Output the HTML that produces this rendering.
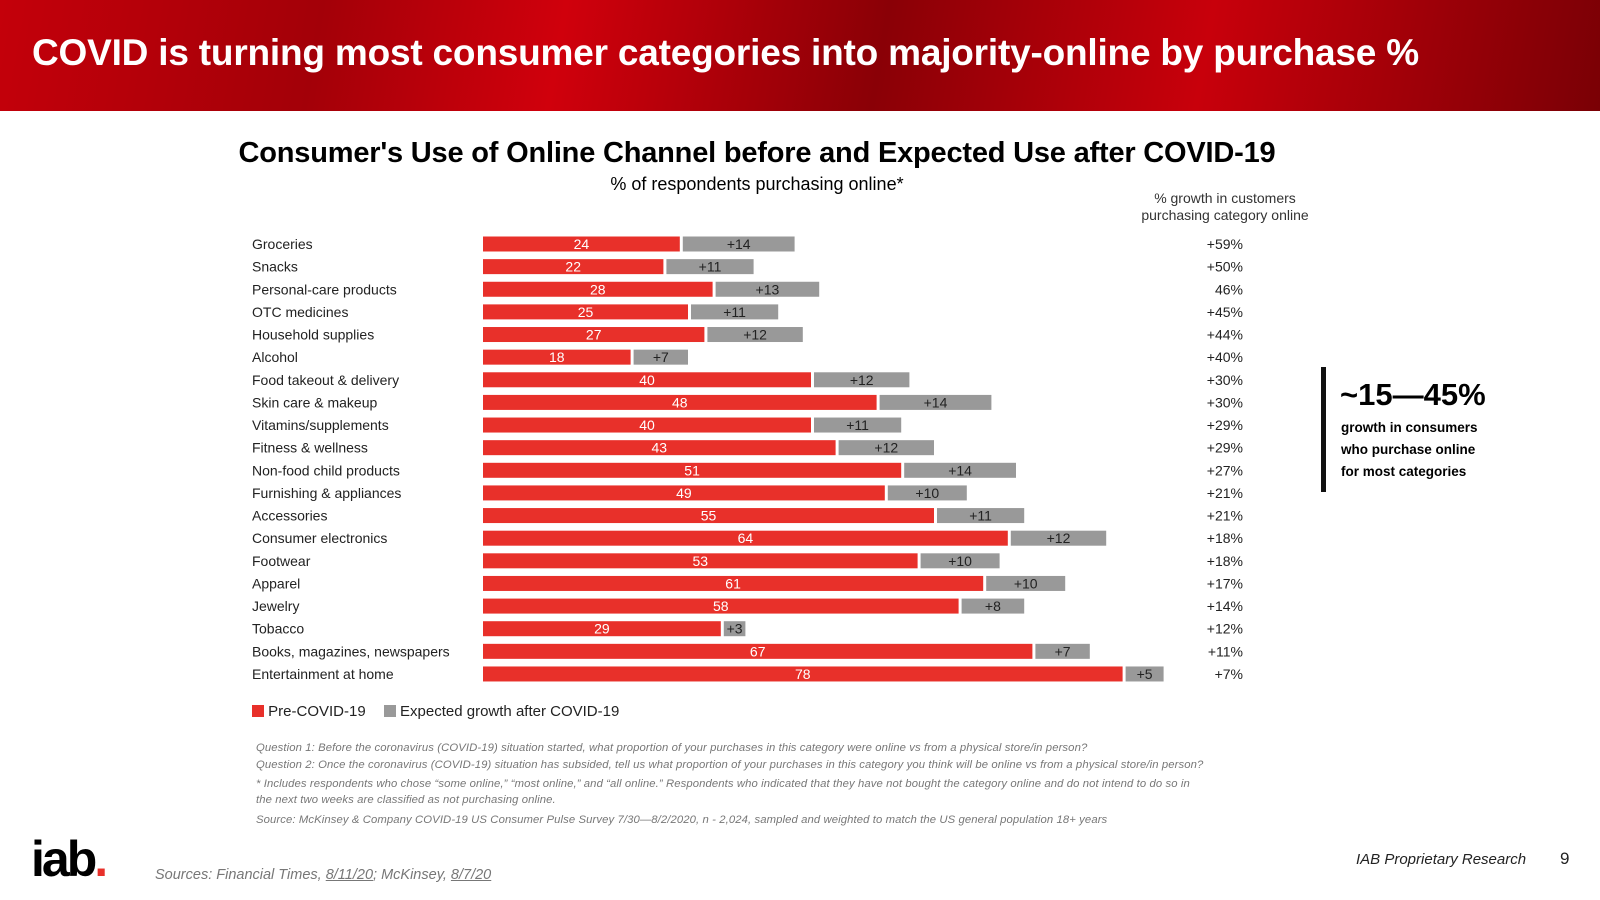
<!DOCTYPE html>
<html><head><meta charset="utf-8">
<style>
body{margin:0;width:1600px;height:900px;overflow:hidden;background:#fff;font-family:"Liberation Sans",sans-serif;position:relative}
.abs{position:absolute}
#header{left:0;top:0;width:1600px;height:111px;background:linear-gradient(100deg,#c4000a 0%,#a30008 20%,#d0000c 35%,#8a0006 55%,#c8000b 75%,#7a0005 100%)}
#title{left:32px;top:32px;color:#fff;font-weight:bold;font-size:37px;white-space:nowrap;letter-spacing:-0.2px}
.note{font-style:italic;color:#777;font-size:11.3px;left:256px;white-space:nowrap;letter-spacing:0.1px}
</style></head><body>
<div class="abs" id="header"></div>
<div class="abs" id="title">COVID is turning most consumer categories into majority-online by purchase %</div>
<div class="abs" style="left:0;width:1514px;text-align:center;top:137px;font-size:29px;font-weight:bold;letter-spacing:-0.2px">Consumer's Use of Online Channel before and Expected Use after COVID-19</div>
<div class="abs" style="left:0;width:1514px;text-align:center;top:174px;font-size:18px">% of respondents purchasing online*</div>
<div class="abs" style="left:1100px;width:250px;text-align:center;top:190px;font-size:14px;color:#333;line-height:17px">% growth in customers<br>purchasing category online</div>
<svg id="chart" class="abs" style="left:0;top:0" width="1600" height="900"></svg>
<div class="abs" style="left:1321px;top:367px;width:5px;height:125px;background:#111"></div>
<div class="abs" style="left:1340px;top:377px;font-size:31px;font-weight:bold">~15—45%</div>
<div class="abs" style="left:1341px;top:417px;font-size:13.5px;font-weight:bold;line-height:22px">growth in consumers<br>who purchase online<br>for most categories</div>
<div class="abs" style="left:252px;top:703px;font-size:15px;color:#222;white-space:nowrap">
<span><span style="display:inline-block;width:12px;height:12px;background:#e8302a;vertical-align:-1px"></span> Pre-COVID-19</span>
<span style="margin-left:14px"><span style="display:inline-block;width:12px;height:12px;background:#999;vertical-align:-1px"></span> Expected growth after COVID-19</span></div>
<div class="abs note" style="top:742px">Question 1: Before the coronavirus (COVID-19) situation started, what proportion of your purchases in this category were online vs from a physical store/in person?</div>
<div class="abs note" style="top:759px">Question 2: Once the coronavirus (COVID-19) situation has subsided, tell us what proportion of your purchases in this category you think will be online vs from a physical store/in person?</div>
<div class="abs note" style="top:776px;line-height:16px">* Includes respondents who chose “some online,” “most online,” and “all online.” Respondents who indicated that they have not bought the category online and do not intend to do so in<br>the next two weeks are classified as not purchasing online.</div>
<div class="abs note" style="top:814px">Source: McKinsey &amp; Company COVID-19 US Consumer Pulse Survey 7/30—8/2/2020, n - 2,024, sampled and weighted to match the US general population 18+ years</div>
<div class="abs" style="left:31px;top:834px;font-size:50px;font-weight:900;letter-spacing:-3px;line-height:50px">iab<span style="color:#e8302a">.</span></div>
<div class="abs" style="left:155px;top:867px;font-size:14.5px;font-style:italic;color:#777">Sources: Financial Times, <u>8/11/20</u>; McKinsey, <u>8/7/20</u></div>
<div class="abs" style="left:1356px;top:851px;font-size:15px;font-style:italic;color:#222">IAB Proprietary Research</div>
<div class="abs" style="left:1560px;top:849px;font-size:17px;color:#222">9</div>
<script>
const categories=["Groceries","Snacks","Personal-care products","OTC medicines","Household supplies","Alcohol","Food takeout & delivery","Skin care & makeup","Vitamins/supplements","Fitness & wellness","Non-food child products","Furnishing & appliances","Accessories","Consumer electronics","Footwear","Apparel","Jewelry","Tobacco","Books, magazines, newspapers","Entertainment at home"];
const preCovid=[24,22,28,25,27,18,40,48,40,43,51,49,55,64,53,61,58,29,67,78];
const growth=[14,11,13,11,12,7,12,14,11,12,14,10,11,12,10,10,8,3,7,5];
const growthPct=["+59%","+50%","46%","+45%","+44%","+40%","+30%","+30%","+29%","+29%","+27%","+21%","+21%","+18%","+18%","+17%","+14%","+12%","+11%","+7%"];
const svg=document.getElementById('chart');const NS='http://www.w3.org/2000/svg';
const x0=483,k=8.2,yTop=244,step=22.63,bh=15;
const xs=v=>x0+v*k, ys=i=>yTop+i*step;
function mk(t,a){const e=document.createElementNS(NS,t);for(const n in a)e.setAttribute(n,a[n]);svg.appendChild(e);return e;}
categories.forEach((c,i)=>{
 const y=ys(i);
 let t=mk('text',{x:252,y:y+5,'font-size':14,fill:'#222','font-family':'Liberation Sans'});t.textContent=c;
 
 
 const r=mk('rect',{x:x0,y:y-bh/2,width:xs(preCovid[i])-x0,height:bh,fill:'#e8302a'});
 
 
 const gx=xs(preCovid[i])+3;
 const g=mk('rect',{x:gx,y:y-bh/2,width:growth[i]*k-3,height:bh,fill:'#999'});
 
 
 t=mk('text',{x:(x0+xs(preCovid[i]))/2,y:y+5,'font-size':14,fill:'#fff','text-anchor':'middle'});t.textContent=preCovid[i];
 
 
 t=mk('text',{x:gx+(growth[i]*k-3)/2,y:y+5,'font-size':14,fill:'#222','text-anchor':'middle'});t.textContent='+'+growth[i];
 
 
 t=mk('text',{x:1243,y:y+5,'font-size':14,fill:'#222','text-anchor':'end'});t.textContent=growthPct[i];
 
 
});
</script>
</body></html>
